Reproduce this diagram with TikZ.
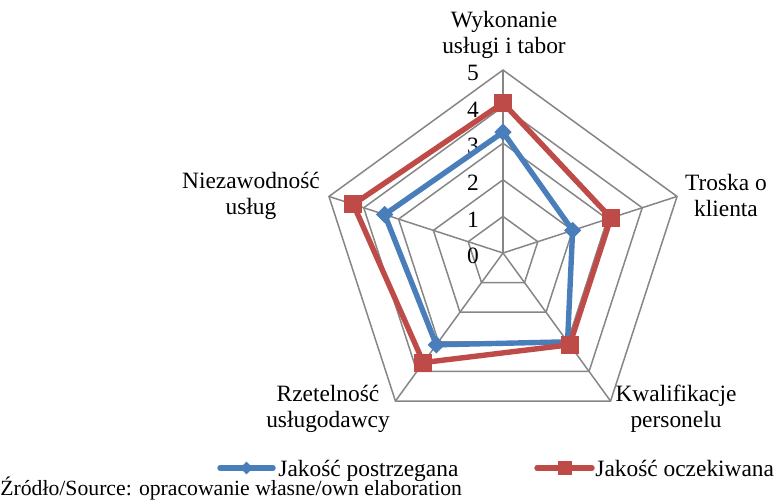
\documentclass[tikz,border=0pt]{standalone}
\usepackage{fontspec}
\setmainfont{Liberation Serif}
\usetikzlibrary{calc, positioning}

\definecolor{niebieski}{RGB}{74,126,187}
\definecolor{czerwony}{RGB}{190,75,72}
\definecolor{siatka}{RGB}{134,134,134}

\begin{document}
\begin{tikzpicture}[x=0.5pt, y=0.5pt,
	siec/.style={draw=siatka, line width=0.75pt},
	postrz/.style={draw=niebieski, line width=2.7pt, line join=round},
	oczek/.style={draw=czerwony, line width=2.7pt, line join=round},
	romb/.style={fill=niebieski, rectangle, rotate=45, minimum size=6pt, inner sep=0pt},
	kw/.style={fill=czerwony, rectangle, minimum size=9pt, inner sep=0pt},
	opis/.style={align=center, font=\fontsize{11.7}{13}\selectfont, inner sep=0pt},
	skala/.style={font=\fontsize{11.7}{13}\selectfont, inner sep=0pt}]
				\useasboundingbox (0,0) rectangle (778,500);
				\def\jd{36.6}
				\coordinate (c) at (503,247);
				
				\begin{scope}[shift={(c)}]
				% siatka
				\foreach \r in {1,...,5}
					\draw[siec] (90:\r*\jd) -- (18:\r*\jd) -- (-54:\r*\jd) -- (-126:\r*\jd) -- (162:\r*\jd) -- cycle;
				\coordinate (o) at (0,0);
				\coordinate (a1) at (90:5*\jd);
				\coordinate (a2) at (18:5*\jd);
				\coordinate (a3) at (-54:5*\jd);
				\coordinate (a4) at (-126:5*\jd);
				\coordinate (a5) at (162:5*\jd);
				\draw[siec] (o) -- (a1);
				\draw[siec] (o) -- (a2);
				\draw[siec] (o) -- (a3);
				\draw[siec] (o) -- (a4);
				\draw[siec] (o) -- (a5);
				\foreach \k in {0,...,5}
					\node[skala] (t\k) at (-30,\k*\jd-3) {\k};
				
				% jakosc postrzegana
				\node[romb] (p1) at (90:3.3*\jd) {};
				\node[romb] (p2) at (18:2.0*\jd) {};
				\node[romb] (p3) at (-54:3.0*\jd) {};
				\node[romb] (p4) at (-126:3.1*\jd) {};
				\node[romb] (p5) at (162:3.4*\jd) {};
				\draw[postrz] (p1.center) -- (p2.center) -- (p3.center) -- (p4.center) -- (p5.center) -- cycle;
				\foreach \i in {1,...,5}
					\node[romb] at (p\i) {};
				
				% jakosc oczekiwana
				\node[kw] (e1) at (90:4.1*\jd) {};
				\node[kw] (e2) at (18:3.1*\jd) {};
				\node[kw] (e3) at (-54:3.1*\jd) {};
				\node[kw] (e4) at (-126:3.7*\jd) {};
				\node[kw] (e5) at (162:4.3*\jd) {};
				\draw[oczek] (e1.center) -- (e2.center) -- (e3.center) -- (e4.center) -- (e5.center) -- cycle;
				\foreach \i in {1,...,5}
					\node[kw] at (e\i) {};
				
				% opisy osi
				\node[opis] (l1) at (1,218) {Wykonanie\\usługi i tabor};
				\node[opis] (l2) at (223,58) {Troska o\\klienta};
				\node[opis] (l3) at (173,-156) {Kwalifikacje\\personelu};
				\node[opis] (l4) at (-175,-156) {Rzetelność\\usługodawcy};
				\node[opis] (l5) at (-252,57) {Niezawodność\\usług};
				\end{scope}
				
				% legenda
				\coordinate (lb1) at (220,32);
				\coordinate (lb2) at (273,32);
				\draw[postrz, line cap=round] (lb1) -- (lb2);
				\node[romb, minimum size=4.5pt] (lbm) at ($(lb1)!0.5!(lb2)$) {};
				\node[skala, anchor=base west] (lbt) at (278,24) {Jakość postrzegana};
				\coordinate (lr1) at (537,32);
				\coordinate (lr2) at (592,32);
				\draw[oczek, line cap=round] (lr1) -- (lr2);
				\node[kw, minimum size=7pt] (lrm) at ($(lr1)!0.5!(lr2)$) {};
				\node[skala, anchor=base west] (lrt) at (595,24) {Jakość oczekiwana};
				
				\node[anchor=base west, inner sep=0pt, font=\fontsize{10.85}{12}\selectfont] (zr) at (0,5) {Źródło/Source: opracowanie własne/own elaboration};
\end{tikzpicture}
\end{document}
